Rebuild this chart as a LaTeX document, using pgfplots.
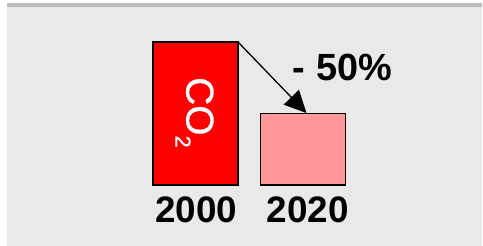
\documentclass[border=0pt]{standalone}
\usepackage{pgfplots}
\pgfplotsset{compat=1.18}
\usepackage{fontspec}
\setmainfont{Liberation Sans}
\newfontfamily\cofont[FakeBold=0.8]{Liberation Sans}
\usetikzlibrary{arrows.meta}
\definecolor{bg}{HTML}{E9E9E9}
\definecolor{topline}{HTML}{BBBBBB}
\definecolor{barA}{HTML}{FF0000}
\definecolor{barB}{HTML}{FF9999}
\begin{document}
\begin{tikzpicture}
\begin{axis}[
  scale only axis,
  width=483bp, height=246bp,
  xmin=-1.8186, xmax=2.6744,
  ymin=-42.66, ymax=129.37,
  hide axis,
  ybar, bar width=85bp,
  clip=false,
]
\fill[white] (rel axis cs:0,0) rectangle (rel axis cs:1,1);
\fill[bg] (rel axis cs:0.0145,0) rectangle (rel axis cs:0.998,0.9715);
\fill[topline] (rel axis cs:0.0145,0.9715) rectangle (rel axis cs:0.998,0.9878);
\addplot[fill=barA, draw=black, line width=1.2bp, bar shift=0pt] coordinates {(0,100)};
\addplot[fill=barB, draw=black, line width=1.2bp, bar shift=0pt] coordinates {(1,50)};
\draw[line width=1.3bp, -{Triangle[length=22bp,width=21bp]}] (axis cs:0.3953,100) -- (axis cs:1.0326,50.3);
\node[anchor=base, font=\fontsize{37}{40}\selectfont\bfseries] at (axis cs:0.005,-25.9) {2000};
\node[anchor=base, font=\fontsize{37}{40}\selectfont\bfseries] at (axis cs:1.042,-25.9) {2020};
\node[anchor=base west, inner sep=0pt, font=\fontsize{38}{40}\selectfont\bfseries] at (axis cs:0.905,73.4) {- 50\%};
\node[anchor=base west, inner sep=0pt, rotate=-90, text=white, font=\cofont\fontsize{39}{40}\selectfont] at (axis cs:-0.085,75.5) {CO\raisebox{-11bp}{\fontsize{22}{22}\selectfont 2}};
\end{axis}
\end{tikzpicture}
\end{document}
